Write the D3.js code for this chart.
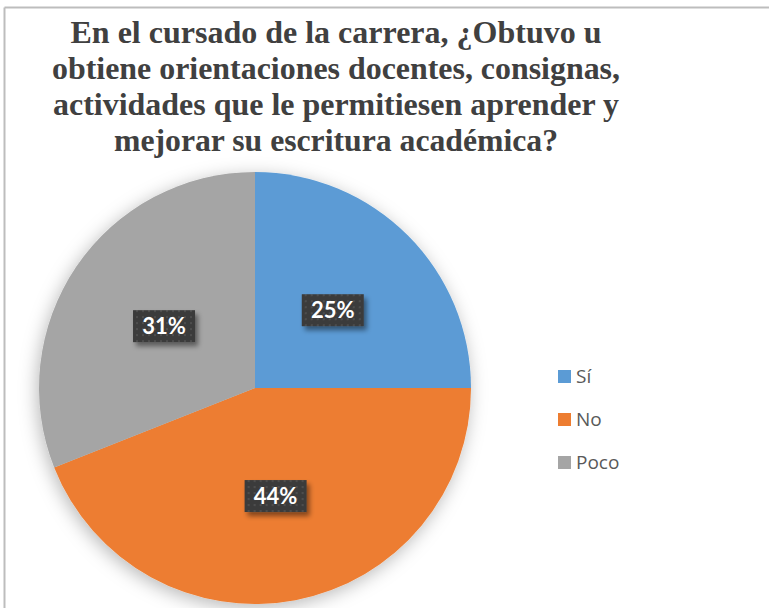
<!DOCTYPE html>
<html><head><meta charset="utf-8">
<script src="https://cdn.jsdelivr.net/npm/d3@7"></script>
<style>body{margin:0;background:#fff}svg{display:block}</style>
</head><body>
<script>
const categories = ["Sí", "No", "Poco"];
const values = [25, 44, 31];
const labels = ["25%", "44%", "31%"];
const colors = ["#5B9BD5", "#ED7D31", "#A5A5A5"];
const titleLines = [
  "En el cursado de la carrera, ¿Obtuvo u",
  "obtiene orientaciones docentes, consignas,",
  "actividades que le permitiesen aprender y",
  "mejorar su escritura académica?"
];
const titleWidths = [531, 568, 566, 444];

const W = 769, H = 608;
const svg = d3.select("body").append("svg").attr("width", W).attr("height", H);
const defs = svg.append("defs");

const pf = defs.append("filter").attr("id", "pieShadow").attr("x", "-30%").attr("y", "-30%").attr("width", "160%").attr("height", "160%");
pf.append("feDropShadow").attr("dx", -2).attr("dy", 4).attr("stdDeviation", 9).attr("flood-color", "#000").attr("flood-opacity", 0.28);

const bf = defs.append("filter").attr("id", "boxShadow").attr("x", "-30%").attr("y", "-30%").attr("width", "160%").attr("height", "180%");
bf.append("feDropShadow").attr("dx", 3).attr("dy", 4).attr("stdDeviation", 2.5).attr("flood-color", "#000").attr("flood-opacity", 0.45);

const pat = defs.append("pattern").attr("id", "dots").attr("width", 6).attr("height", 6).attr("patternUnits", "userSpaceOnUse");
pat.append("rect").attr("width", 6).attr("height", 6).attr("fill", "#3b3b3b");
pat.append("circle").attr("cx", 3).attr("cy", 3).attr("r", 0.9).attr("fill", "#575757");

// frame
svg.append("line").attr("x1", 4.5).attr("x2", W).attr("y1", 7.5).attr("y2", 7.5).attr("stroke", "#bdbdbd").attr("stroke-width", 2);
svg.append("line").attr("x1", 4.5).attr("x2", 4.5).attr("y1", 7.5).attr("y2", H).attr("stroke", "#bdbdbd").attr("stroke-width", 2);

// title
const tg = svg.append("g");
const baselines = [43, 79, 115, 151];
titleLines.forEach((t, i) => {
  tg.append("text")
    .attr("x", 336).attr("y", baselines[i])
    .attr("text-anchor", "middle")
    .attr("font-family", "'Liberation Serif', 'Times New Roman', serif")
    .attr("font-weight", "bold").attr("font-size", 32)
    .attr("fill", "#404040")
    .attr("textLength", titleWidths[i]).attr("lengthAdjust", "spacingAndGlyphs")
    .text(t);
});

// pie
const cx = 255, cy = 388, R = 216;
const pie = d3.pie().sort(null).value(d => d);
const arc = d3.arc().innerRadius(0).outerRadius(R);
const arcs = pie(values);
const pg = svg.append("g").attr("transform", `translate(${cx},${cy})`);
pg.append("g").attr("filter", "url(#pieShadow)")
  .selectAll("path").data(arcs).enter().append("path")
  .attr("d", arc).attr("fill", (d, i) => colors[i]);

// labels
const labelArc = d3.arc().innerRadius(110).outerRadius(110);
const lg = pg.selectAll("g.lbl").data(arcs).enter().append("g").attr("class", "lbl")
  .attr("transform", d => { const c = labelArc.centroid(d); return `translate(${c[0]},${c[1]})`; });
lg.append("rect").attr("x", -31).attr("y", -16).attr("width", 62).attr("height", 32)
  .attr("fill", "url(#dots)").attr("filter", "url(#boxShadow)");
lg.append("text").attr("text-anchor", "middle").attr("y", 8)
  .attr("font-family", "Lato, 'Open Sans', sans-serif").attr("font-weight", "bold").attr("font-size", 22)
  .attr("fill", "#fff").text((d, i) => labels[i]);

// legend
const legend = svg.append("g").attr("transform", "translate(558,0)");
const ly = d3.scalePoint().domain(categories).range([376, 462]);
const li = legend.selectAll("g").data(categories).enter().append("g")
  .attr("transform", d => `translate(0,${ly(d)})`);
li.append("rect").attr("x", 0).attr("y", -6).attr("width", 13).attr("height", 13).attr("fill", (d, i) => colors[i]);
li.append("text").attr("x", 18).attr("y", 7)
  .attr("font-family", "'Open Sans', Lato, sans-serif").attr("font-size", 19)
  .attr("fill", "#595959").text(d => d);
</script>
</body></html>
